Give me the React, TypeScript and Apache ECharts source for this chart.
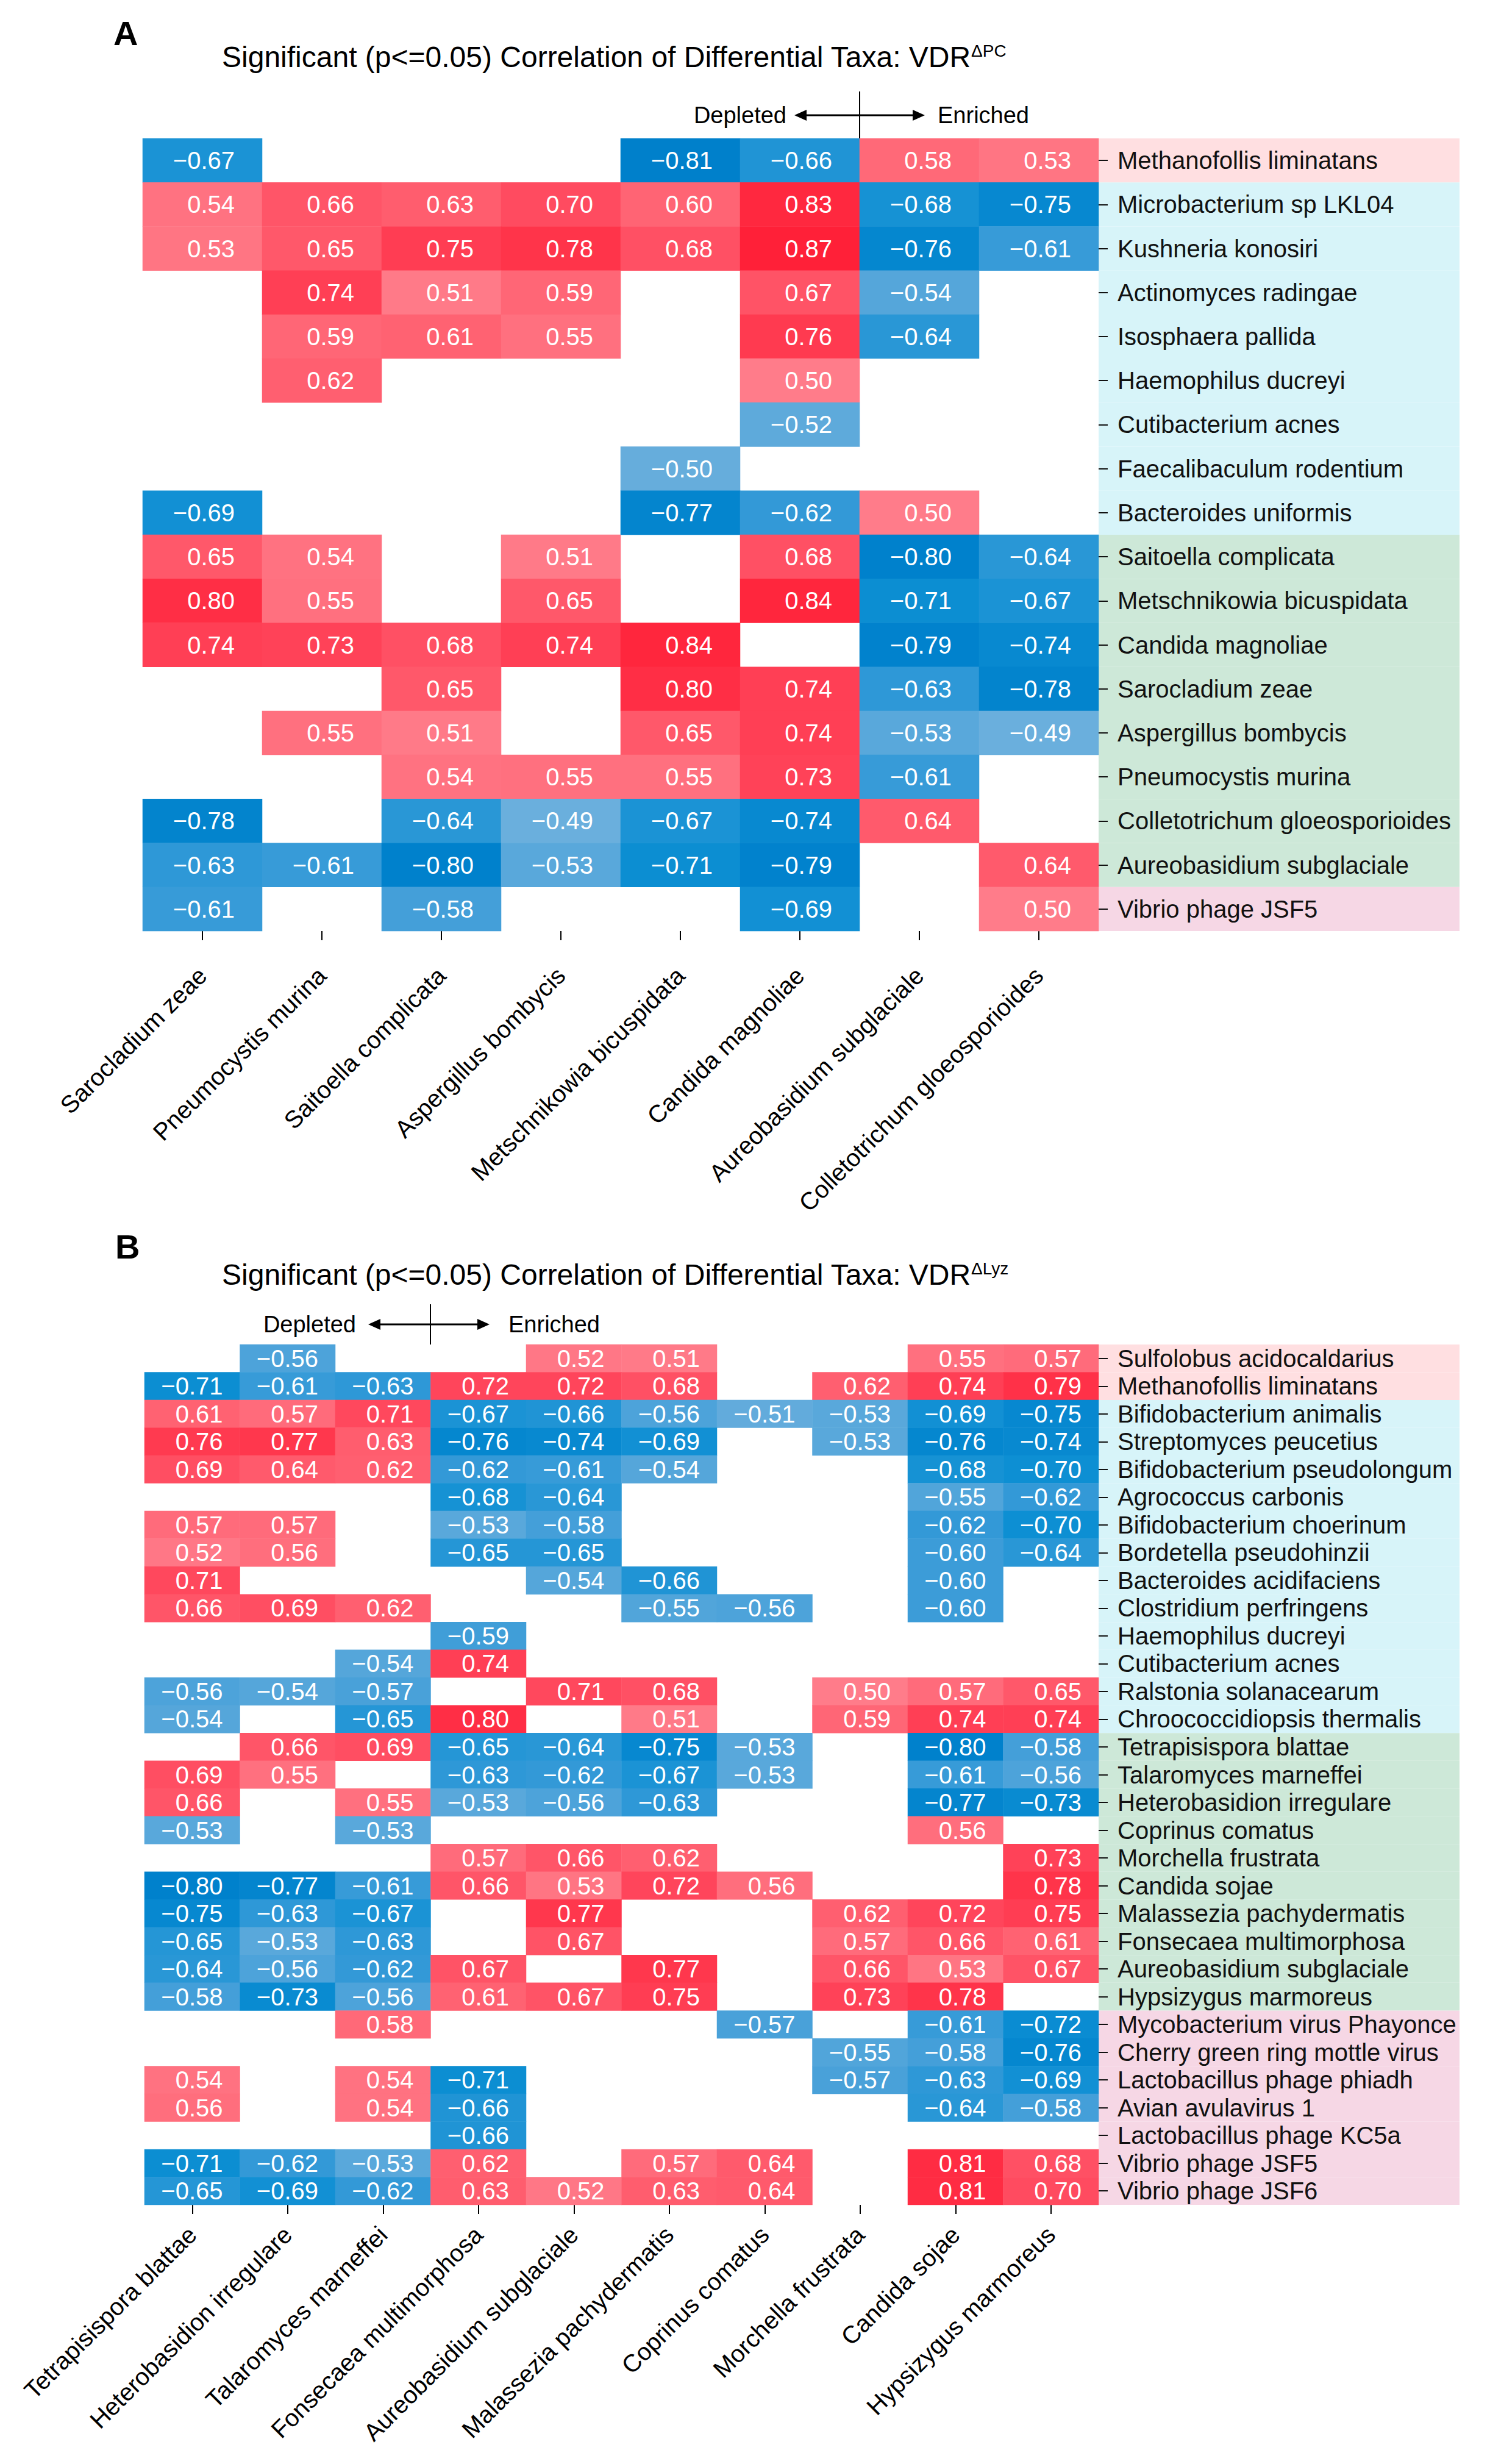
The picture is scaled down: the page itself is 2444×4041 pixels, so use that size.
import React, { useEffect, useRef } from "react";
import * as echarts from "echarts";

const FONT = '"Liberation Sans", Arial, Helvetica, sans-serif';

// ---------- Panel A ----------
const colsA = [
  "Sarocladium zeae",
  "Pneumocystis murina",
  "Saitoella complicata",
  "Aspergillus bombycis",
  "Metschnikowia bicuspidata",
  "Candida magnoliae",
  "Aureobasidium subglaciale",
  "Colletotrichum gloeosporioides",
];
const rowsA = [
  "Methanofollis liminatans",
  "Microbacterium sp LKL04",
  "Kushneria konosiri",
  "Actinomyces radingae",
  "Isosphaera pallida",
  "Haemophilus ducreyi",
  "Cutibacterium acnes",
  "Faecalibaculum rodentium",
  "Bacteroides uniformis",
  "Saitoella complicata",
  "Metschnikowia bicuspidata",
  "Candida magnoliae",
  "Sarocladium zeae",
  "Aspergillus bombycis",
  "Pneumocystis murina",
  "Colletotrichum gloeosporioides",
  "Aureobasidium subglaciale",
  "Vibrio phage JSF5",
];
const groupsA = [
  "archaea",
  "bacteria", "bacteria", "bacteria", "bacteria", "bacteria", "bacteria", "bacteria", "bacteria",
  "fungi", "fungi", "fungi", "fungi", "fungi", "fungi", "fungi", "fungi",
  "virus",
];
const valuesA: (number | null)[][] = [
  [-0.67, null, null, null, -0.81, -0.66, 0.58, 0.53],
  [0.54, 0.66, 0.63, 0.7, 0.6, 0.83, -0.68, -0.75],
  [0.53, 0.65, 0.75, 0.78, 0.68, 0.87, -0.76, -0.61],
  [null, 0.74, 0.51, 0.59, null, 0.67, -0.54, null],
  [null, 0.59, 0.61, 0.55, null, 0.76, -0.64, null],
  [null, 0.62, null, null, null, 0.5, null, null],
  [null, null, null, null, null, -0.52, null, null],
  [null, null, null, null, -0.5, null, null, null],
  [-0.69, null, null, null, -0.77, -0.62, 0.5, null],
  [0.65, 0.54, null, 0.51, null, 0.68, -0.8, -0.64],
  [0.8, 0.55, null, 0.65, null, 0.84, -0.71, -0.67],
  [0.74, 0.73, 0.68, 0.74, 0.84, null, -0.79, -0.74],
  [null, null, 0.65, null, 0.8, 0.74, -0.63, -0.78],
  [null, 0.55, 0.51, null, 0.65, 0.74, -0.53, -0.49],
  [null, null, 0.54, 0.55, 0.55, 0.73, -0.61, null],
  [-0.78, null, -0.64, -0.49, -0.67, -0.74, 0.64, null],
  [-0.63, -0.61, -0.8, -0.53, -0.71, -0.79, null, 0.64],
  [-0.61, null, -0.58, null, null, -0.69, null, 0.5],
];

// ---------- Panel B ----------
const colsB = [
  "Tetrapisispora blattae",
  "Heterobasidion irregulare",
  "Talaromyces marneffei",
  "Fonsecaea multimorphosa",
  "Aureobasidium subglaciale",
  "Malassezia pachydermatis",
  "Coprinus comatus",
  "Morchella frustrata",
  "Candida sojae",
  "Hypsizygus marmoreus",
];
const rowsB = [
  "Sulfolobus acidocaldarius",
  "Methanofollis liminatans",
  "Bifidobacterium animalis",
  "Streptomyces peucetius",
  "Bifidobacterium pseudolongum",
  "Agrococcus carbonis",
  "Bifidobacterium choerinum",
  "Bordetella pseudohinzii",
  "Bacteroides acidifaciens",
  "Clostridium perfringens",
  "Haemophilus ducreyi",
  "Cutibacterium acnes",
  "Ralstonia solanacearum",
  "Chroococcidiopsis thermalis",
  "Tetrapisispora blattae",
  "Talaromyces marneffei",
  "Heterobasidion irregulare",
  "Coprinus comatus",
  "Morchella frustrata",
  "Candida sojae",
  "Malassezia pachydermatis",
  "Fonsecaea multimorphosa",
  "Aureobasidium subglaciale",
  "Hypsizygus marmoreus",
  "Mycobacterium virus Phayonce",
  "Cherry green ring mottle virus",
  "Lactobacillus phage phiadh",
  "Avian avulavirus 1",
  "Lactobacillus phage KC5a",
  "Vibrio phage JSF5",
  "Vibrio phage JSF6",
];
const groupsB = [
  "archaea", "archaea",
  "bacteria", "bacteria", "bacteria", "bacteria", "bacteria", "bacteria",
  "bacteria", "bacteria", "bacteria", "bacteria", "bacteria", "bacteria",
  "fungi", "fungi", "fungi", "fungi", "fungi", "fungi", "fungi", "fungi", "fungi", "fungi",
  "virus", "virus", "virus", "virus", "virus", "virus", "virus",
];
const _ = null;
const valuesB: (number | null)[][] = [
  [_, -0.56, _, _, 0.52, 0.51, _, _, 0.55, 0.57],
  [-0.71, -0.61, -0.63, 0.72, 0.72, 0.68, _, 0.62, 0.74, 0.79],
  [0.61, 0.57, 0.71, -0.67, -0.66, -0.56, -0.51, -0.53, -0.69, -0.75],
  [0.76, 0.77, 0.63, -0.76, -0.74, -0.69, _, -0.53, -0.76, -0.74],
  [0.69, 0.64, 0.62, -0.62, -0.61, -0.54, _, _, -0.68, -0.7],
  [_, _, _, -0.68, -0.64, _, _, _, -0.55, -0.62],
  [0.57, 0.57, _, -0.53, -0.58, _, _, _, -0.62, -0.7],
  [0.52, 0.56, _, -0.65, -0.65, _, _, _, -0.6, -0.64],
  [0.71, _, _, _, -0.54, -0.66, _, _, -0.6, _],
  [0.66, 0.69, 0.62, _, _, -0.55, -0.56, _, -0.6, _],
  [_, _, _, -0.59, _, _, _, _, _, _],
  [_, _, -0.54, 0.74, _, _, _, _, _, _],
  [-0.56, -0.54, -0.57, _, 0.71, 0.68, _, 0.5, 0.57, 0.65],
  [-0.54, _, -0.65, 0.8, _, 0.51, _, 0.59, 0.74, 0.74],
  [_, 0.66, 0.69, -0.65, -0.64, -0.75, -0.53, _, -0.8, -0.58],
  [0.69, 0.55, _, -0.63, -0.62, -0.67, -0.53, _, -0.61, -0.56],
  [0.66, _, 0.55, -0.53, -0.56, -0.63, _, _, -0.77, -0.73],
  [-0.53, _, -0.53, _, _, _, _, _, 0.56, _],
  [_, _, _, 0.57, 0.66, 0.62, _, _, _, 0.73],
  [-0.8, -0.77, -0.61, 0.66, 0.53, 0.72, 0.56, _, _, 0.78],
  [-0.75, -0.63, -0.67, _, 0.77, _, _, 0.62, 0.72, 0.75],
  [-0.65, -0.53, -0.63, _, 0.67, _, _, 0.57, 0.66, 0.61],
  [-0.64, -0.56, -0.62, 0.67, _, 0.77, _, 0.66, 0.53, 0.67],
  [-0.58, -0.73, -0.56, 0.61, 0.67, 0.75, _, 0.73, 0.78, _],
  [_, _, 0.58, _, _, _, -0.57, _, -0.61, -0.72],
  [_, _, _, _, _, _, _, -0.55, -0.58, -0.76],
  [0.54, _, 0.54, -0.71, _, _, _, -0.57, -0.63, -0.69],
  [0.56, _, 0.54, -0.66, _, _, _, _, -0.64, -0.58],
  [_, _, _, -0.66, _, _, _, _, _, _],
  [-0.71, -0.62, -0.53, 0.62, _, 0.57, 0.64, _, 0.81, 0.68],
  [-0.65, -0.69, -0.62, 0.63, 0.52, 0.63, 0.64, _, 0.81, 0.7],
];

const groupColors: Record<string, string> = {
  archaea: "#ffdfe1",
  bacteria: "#d7f4f9",
  fungi: "#cde8d8",
  virus: "#f6d7e5",
};

// colour stops from -0.9 to 0.9 every 0.1
const scaleColors = [
  "#0077c3", "#0081cc", "#0d8fd3", "#3c9cd8", "#66addc", "#8cc0e4",
  "#b4d6ee", "#d8eaf6", "#eef5fb", "#ffffff", "#fff0f2", "#ffd6db",
  "#ffb8c0", "#ff9aa5", "#ff7c8a", "#ff6474", "#ff4b60", "#ff2e45", "#ff1a32",
];

function toCells(values: (number | null)[][]) {
  const out: [number, number, number][] = [];
  values.forEach((row, r) =>
    row.forEach((v, c) => {
      if (v !== null && v !== undefined) out.push([c, r, v]);
    })
  );
  return out;
}

const fmt = (v: number) => {
  const s = Math.abs(v).toFixed(2);
  return v < 0 ? "\u2212" + s : s;
};

// layout (pixels)
const A = { left: 234, top: 227, width: 1568, height: 1300 };
const B = { left: 237, top: 2205, width: 1565, height: 1411 };
const BAND_W = 592;

export default function App() {
  const ref = useRef<HTMLDivElement>(null);
  useEffect(() => {
    document.body.style.margin = "0";
    if (!ref.current) return;
    const chart = echarts.init(ref.current, undefined, { renderer: "svg" });

    const cellLabel = (pos: string) => ({
      show: true,
      position: [pos, "50%"],
      align: "right",
      verticalAlign: "middle",
      color: "#ffffff",
      fontSize: 40,
      fontFamily: FONT,
      formatter: (p: any) => fmt(p.value[2]),
    });

    const catX = (gridIndex: number, data: string[], margin: number) => ({
      type: "category",
      gridIndex,
      data,
      position: "bottom",
      axisLine: { show: false },
      axisTick: {
        show: true,
        alignWithLabel: true,
        length: 15,
        lineStyle: { color: "#000", width: 2 },
      },
      axisLabel: {
        interval: 0,
        rotate: 45,
        margin,
        fontSize: 40,
        color: "#000",
        fontFamily: FONT,
      },
      splitLine: { show: false },
      splitArea: { show: false },
    });

    const catY = (gridIndex: number, data: string[]) => ({
      type: "category",
      gridIndex,
      data,
      inverse: true,
      position: "right",
      z: 10,
      axisLine: { show: false },
      axisTick: {
        show: true,
        alignWithLabel: true,
        length: 15,
        lineStyle: { color: "#111", width: 2 },
      },
      axisLabel: {
        interval: 0,
        margin: 31,
        fontSize: 40,
        color: "#111",
        fontFamily: FONT,
      },
      splitLine: { show: false },
      splitArea: { show: false },
    });

    const bandSeries = (idx: number, rows: string[], groups: string[]) => ({
      type: "bar",
      xAxisIndex: idx,
      yAxisIndex: idx,
      barWidth: "100%",
      silent: true,
      z: 1,
      data: rows.map((_r, i) => ({
        value: 1,
        itemStyle: { color: groupColors[groups[i]] },
      })),
    });

    const arrow = (x1: number, x2: number, y: number) => [
      {
        type: "line",
        shape: { x1: x1 + 10, y1: y, x2: x2 - 10, y2: y },
        style: { stroke: "#000", lineWidth: 3 },
      },
      {
        type: "polygon",
        shape: { points: [[x1, y], [x1 + 20, y - 9], [x1 + 20, y + 9]] },
        style: { fill: "#000" },
      },
      {
        type: "polygon",
        shape: { points: [[x2, y], [x2 - 20, y - 9], [x2 - 20, y + 9]] },
        style: { fill: "#000" },
      },
    ];

    const titleText = (y: number, sup: string) => ({
      type: "text",
      x: 364,
      y,
      style: {
        text: "{m|Significant (p<=0.05) Correlation of Differential Taxa: VDR}{s|" + sup + "}",
        verticalAlign: "middle",
        align: "left",
        rich: {
          m: { fontSize: 48, fontFamily: FONT, fill: "#000", verticalAlign: "bottom" },
          s: { fontSize: 28, fontFamily: FONT, fill: "#000", verticalAlign: "top" },
        },
      },
    });

    const label = (x: number, y: number, text: string, align: string, size: number, weight = "normal") => ({
      type: "text",
      x,
      y,
      style: {
        text,
        align,
        verticalAlign: "middle",
        fontSize: size,
        fontWeight: weight,
        fontFamily: FONT,
        fill: "#000",
      },
    });

    const option: any = {
      animation: false,
      backgroundColor: "#ffffff",
      grid: [
        { ...A, outerBoundsMode: "none", containLabel: false },
        { left: A.left + A.width, top: A.top, width: BAND_W, height: A.height, outerBoundsMode: "none", containLabel: false },
        { ...B, outerBoundsMode: "none", containLabel: false },
        { left: B.left + B.width, top: B.top, width: BAND_W, height: B.height, outerBoundsMode: "none", containLabel: false },
      ],
      xAxis: [
        catX(0, colsA, 66),
        { type: "value", gridIndex: 1, min: 0, max: 1, show: false },
        catX(2, colsB, 42),
        { type: "value", gridIndex: 3, min: 0, max: 1, show: false },
      ],
      yAxis: [
        catY(0, rowsA),
        { type: "category", gridIndex: 1, data: rowsA, inverse: true, show: false },
        catY(2, rowsB),
        { type: "category", gridIndex: 3, data: rowsB, inverse: true, show: false },
      ],
      visualMap: {
        type: "continuous",
        show: false,
        min: -0.9,
        max: 0.9,
        seriesIndex: [0, 2],
        inRange: { color: scaleColors },
      },
      series: [
        {
          type: "heatmap",
          xAxisIndex: 0,
          yAxisIndex: 0,
          data: toCells(valuesA),
          label: cellLabel("77%"),
          emphasis: { disabled: true },
          z: 3,
        },
        bandSeries(1, rowsA, groupsA),
        {
          type: "heatmap",
          xAxisIndex: 2,
          yAxisIndex: 2,
          data: toCells(valuesB),
          label: cellLabel("82%"),
          emphasis: { disabled: true },
          z: 3,
        },
        bandSeries(3, rowsB, groupsB),
      ],
      graphic: [
        label(186, 54, "A", "left", 56, "bold"),
        titleText(93, "\u0394PC"),
        label(1290, 189, "Depleted", "right", 38),
        ...arrow(1303, 1517, 189),
        label(1538, 189, "Enriched", "left", 38),
        {
          type: "line",
          shape: { x1: 1410, y1: 150, x2: 1410, y2: 227 },
          style: { stroke: "#000", lineWidth: 2 },
        },
        label(189, 2044, "B", "left", 56, "bold"),
        titleText(2090, "\u0394Lyz"),
        label(584, 2172, "Depleted", "right", 38),
        ...arrow(604, 803, 2172),
        label(834, 2172, "Enriched", "left", 38),
        {
          type: "line",
          shape: { x1: 706, y1: 2139, x2: 706, y2: 2205 },
          style: { stroke: "#000", lineWidth: 2 },
        },
      ],
    };

    chart.setOption(option);
    return () => chart.dispose();
  }, []);

  return <div ref={ref} style={{ width: 2444, height: 4041 }} />;
}
